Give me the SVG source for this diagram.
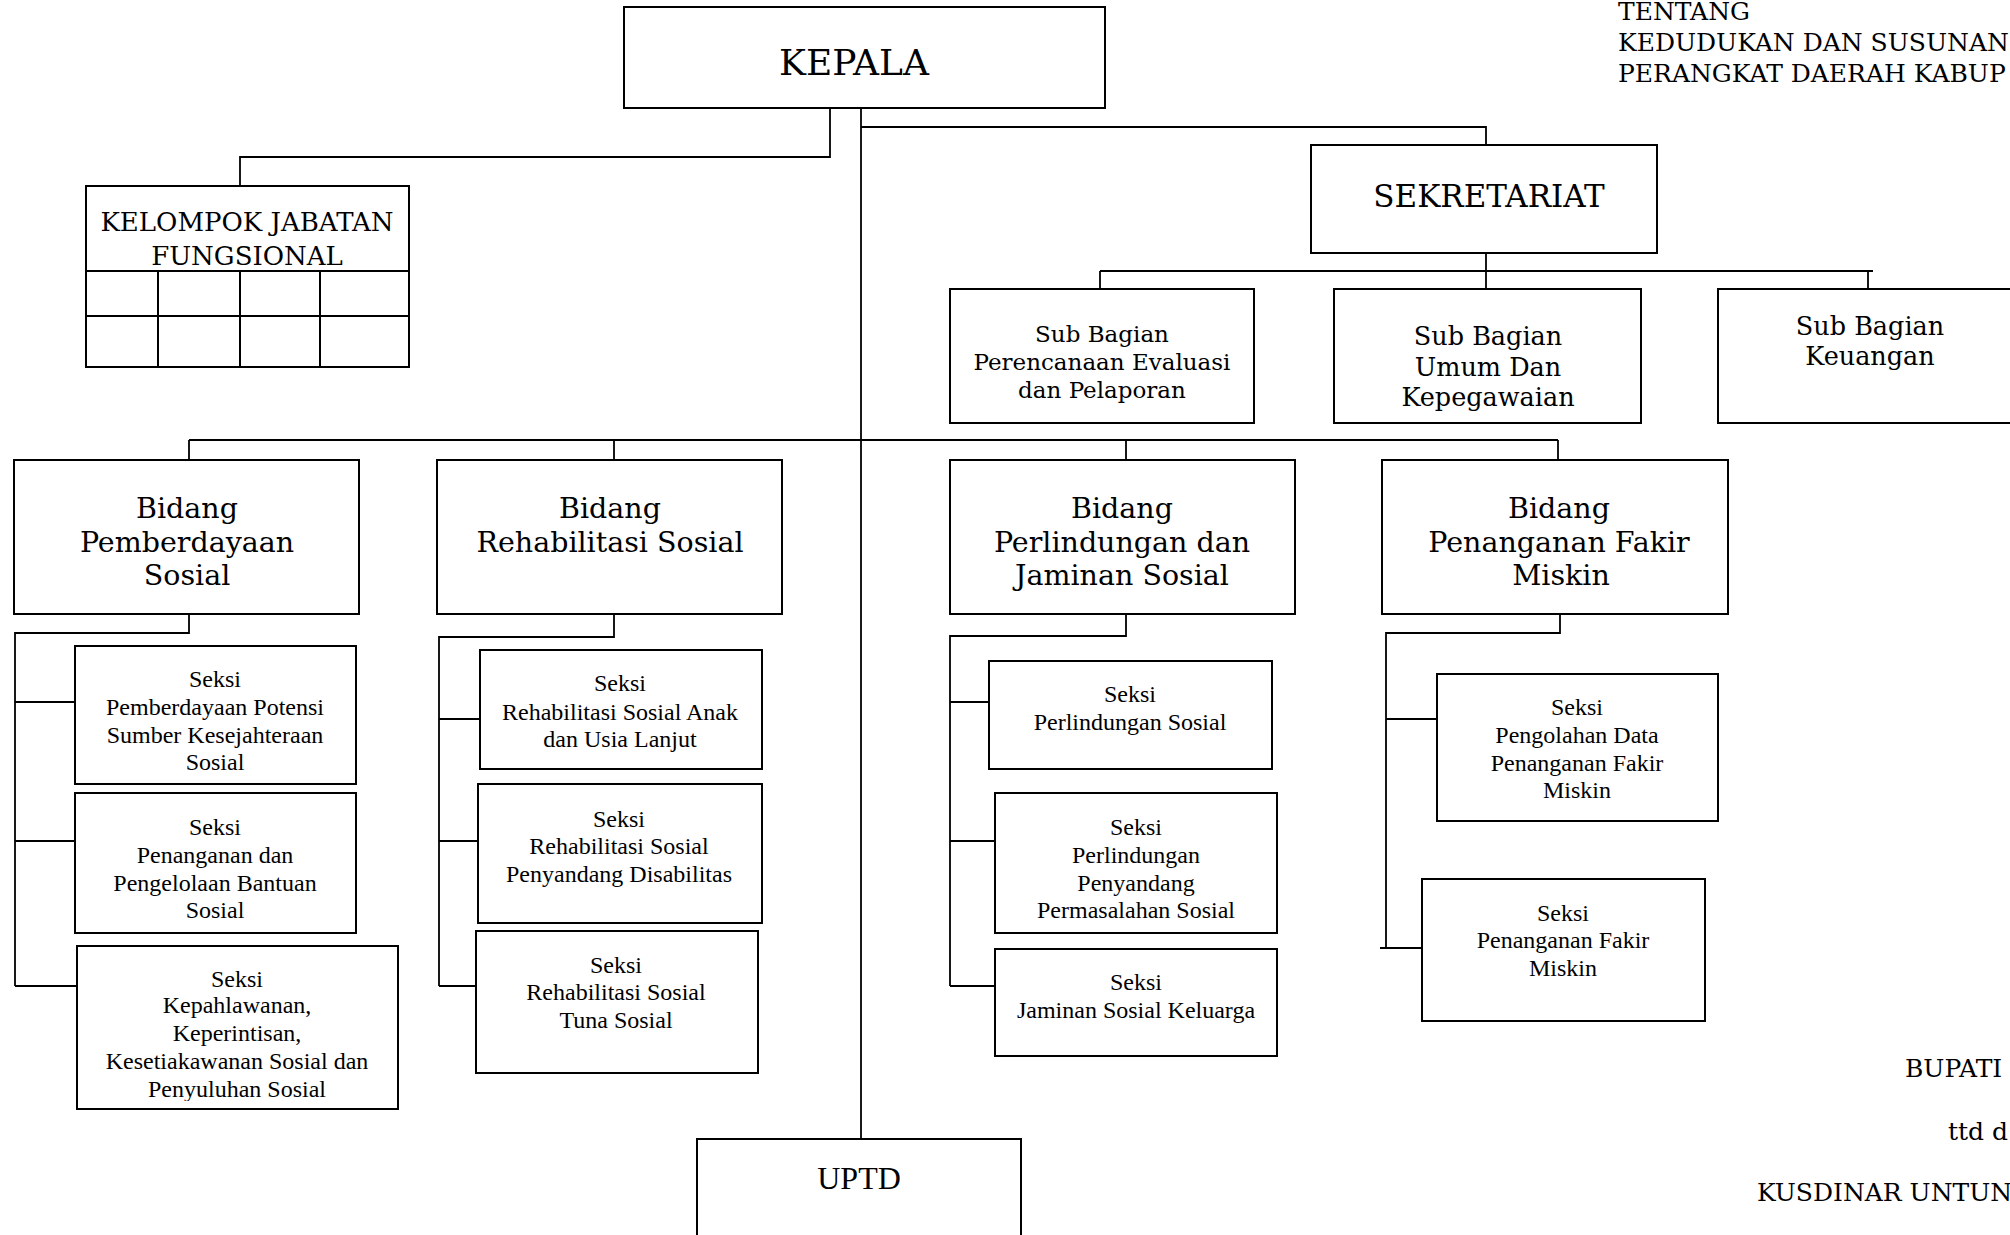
<svg xmlns="http://www.w3.org/2000/svg" width="2010" height="1235" viewBox="0 0 2010 1235">
  <style>
    .box { fill: #fff; stroke: #000; stroke-width: 2; }
    .grid { fill: none; stroke: #000; stroke-width: 2; }
    .conn { fill: none; stroke: #000; stroke-width: 1.8; }
    text { fill: #000; }
    .bk { font-family: "DejaVu Serif", "Liberation Serif", serif; }
    .tm { font-family: "Liberation Serif", "Times New Roman", serif; }
    .c { text-anchor: middle; }
    .head { font-size: 36px; }
    .sek { font-size: 31px; }
    .kjf { font-size: 26px; }
    .sub { font-size: 25.5px; }
    .sub1 { font-size: 23px; }
    .bid { font-size: 28.5px; }
    .seksi { font-size: 24px; }
    .uptd { font-size: 32px; }
    .note { font-size: 25px; }
  </style>
  <defs>
    <clipPath id="clipP3"><rect x="77" y="946" width="321" height="155"/></clipPath>
  </defs>

  <rect width="2010" height="1235" fill="#fff"/>

  <!-- connectors -->
  <g id="connectors" class="conn">
    <path d="M830,108 V157 H240 V186"/>
    <path d="M861,108 V1139"/>
    <path d="M861,127 H1486 V145"/>
    <path d="M1486,253 V289"/>
    <path d="M1100,271 H1873 M1100,271 V289 M1868,271 V289"/>
    <path d="M189,440 H1558 M189,440 V460 M614,440 V460 M1126,440 V460 M1558,440 V460"/>
    <path d="M189,614 V633 H15 V986 M15,702 H75 M15,841 H75 M15,986 H77"/>
    <path d="M614,614 V637 H439 V986 M439,719 H480 M439,841 H478 M439,986 H476"/>
    <path d="M1126,614 V636 H950 V986 M950,702 H989 M950,841 H995 M950,986 H995"/>
    <path d="M1560,614 V633 H1386 V948 M1386,719 H1437 M1380,948 H1422"/>
  </g>

  <!-- head -->
  <g id="kepala">
    <rect class="box" x="624" y="7" width="481" height="101"/>
    <text class="bk head c" x="854" y="75">KEPALA</text>
  </g>

  <g id="kelompok-jabatan-fungsional">
    <rect class="box" x="86" y="186" width="323" height="181"/>
    <path class="grid" d="M86,271 H409 M86,316 H409 M158,271 V367 M240,271 V367 M320,271 V367"/>
    <text class="bk kjf c" x="247" y="231">KELOMPOK JABATAN</text>
    <text class="bk kjf c" x="247" y="265">FUNGSIONAL</text>
  </g>

  <g id="sekretariat">
    <rect class="box" x="1311" y="145" width="346" height="108"/>
    <text class="bk sek c" x="1489" y="207">SEKRETARIAT</text>
  </g>

  <g id="subbag-perencanaan">
    <rect class="box" x="950" y="289" width="304" height="134"/>
    <text class="bk sub1 c" x="1102" y="342">Sub Bagian</text>
    <text class="bk sub1 c" x="1102" y="370">Perencanaan Evaluasi</text>
    <text class="bk sub1 c" x="1102" y="398">dan Pelaporan</text>
  </g>

  <g id="subbag-umum">
    <rect class="box" x="1334" y="289" width="307" height="134"/>
    <text class="bk sub c" x="1488" y="345">Sub Bagian</text>
    <text class="bk sub c" x="1488" y="376">Umum Dan</text>
    <text class="bk sub c" x="1488" y="406">Kepegawaian</text>
  </g>

  <g id="subbag-keuangan">
    <rect class="box" x="1718" y="289" width="310" height="134"/>
    <text class="bk sub c" x="1870" y="335">Sub Bagian</text>
    <text class="bk sub c" x="1870" y="365">Keuangan</text>
  </g>

  <!-- bidang -->
  <g id="bidang-pemberdayaan">
    <rect class="box" x="14" y="460" width="345" height="154"/>
    <text class="bk bid c" x="187" y="518">Bidang</text>
    <text class="bk bid c" x="187" y="552">Pemberdayaan</text>
    <text class="bk bid c" x="187" y="585">Sosial</text>
  </g>

  <g id="bidang-rehabilitasi">
    <rect class="box" x="437" y="460" width="345" height="154"/>
    <text class="bk bid c" x="610" y="518">Bidang</text>
    <text class="bk bid c" x="610" y="552">Rehabilitasi Sosial</text>
  </g>

  <g id="bidang-perlindungan">
    <rect class="box" x="950" y="460" width="345" height="154"/>
    <text class="bk bid c" x="1122" y="518">Bidang</text>
    <text class="bk bid c" x="1122" y="552">Perlindungan dan</text>
    <text class="bk bid c" x="1122" y="585">Jaminan Sosial</text>
  </g>

  <g id="bidang-fakir-miskin">
    <rect class="box" x="1382" y="460" width="346" height="154"/>
    <text class="bk bid c" x="1559" y="518">Bidang</text>
    <text class="bk bid c" x="1559" y="552">Penanganan Fakir</text>
    <text class="bk bid c" x="1561" y="585">Miskin</text>
  </g>

  <!-- seksi: pemberdayaan sosial -->
  <g id="seksi-potensi">
    <rect class="box" x="75" y="646" width="281" height="138"/>
    <text class="tm seksi c" x="215" y="687">Seksi</text>
    <text class="tm seksi c" x="215" y="715">Pemberdayaan Potensi</text>
    <text class="tm seksi c" x="215" y="743">Sumber Kesejahteraan</text>
    <text class="tm seksi c" x="215" y="770">Sosial</text>
  </g>

  <g id="seksi-bantuan">
    <rect class="box" x="75" y="793" width="281" height="140"/>
    <text class="tm seksi c" x="215" y="835">Seksi</text>
    <text class="tm seksi c" x="215" y="863">Penanganan dan</text>
    <text class="tm seksi c" x="215" y="891">Pengelolaan Bantuan</text>
    <text class="tm seksi c" x="215" y="918">Sosial</text>
  </g>

  <g id="seksi-kepahlawanan">
    <rect class="box" x="77" y="946" width="321" height="163"/>
    <g clip-path="url(#clipP3)">
      <text class="tm seksi c" x="237" y="987">Seksi</text>
      <text class="tm seksi c" x="237" y="1013">Kepahlawanan,</text>
      <text class="tm seksi c" x="237" y="1041">Keperintisan,</text>
      <text class="tm seksi c" x="237" y="1069">Kesetiakawanan Sosial dan</text>
      <text class="tm seksi c" x="237" y="1097">Penyuluhan Sosial</text>
    </g>
  </g>

  <!-- seksi: rehabilitasi sosial -->
  <g id="seksi-anak-lansia">
    <rect class="box" x="480" y="650" width="282" height="119"/>
    <text class="tm seksi c" x="620" y="691">Seksi</text>
    <text class="tm seksi c" x="620" y="720">Rehabilitasi Sosial Anak</text>
    <text class="tm seksi c" x="620" y="747">dan Usia Lanjut</text>
  </g>

  <g id="seksi-disabilitas">
    <rect class="box" x="478" y="784" width="284" height="139"/>
    <text class="tm seksi c" x="619" y="827">Seksi</text>
    <text class="tm seksi c" x="619" y="854">Rehabilitasi Sosial</text>
    <text class="tm seksi c" x="619" y="882">Penyandang Disabilitas</text>
  </g>

  <g id="seksi-tuna-sosial">
    <rect class="box" x="476" y="931" width="282" height="142"/>
    <text class="tm seksi c" x="616" y="973">Seksi</text>
    <text class="tm seksi c" x="616" y="1000">Rehabilitasi Sosial</text>
    <text class="tm seksi c" x="616" y="1028">Tuna Sosial</text>
  </g>

  <!-- seksi: perlindungan dan jaminan sosial -->
  <g id="seksi-perlindungan">
    <rect class="box" x="989" y="661" width="283" height="108"/>
    <text class="tm seksi c" x="1130" y="702">Seksi</text>
    <text class="tm seksi c" x="1130" y="730">Perlindungan Sosial</text>
  </g>

  <g id="seksi-pmks">
    <rect class="box" x="995" y="793" width="282" height="140"/>
    <text class="tm seksi c" x="1136" y="835">Seksi</text>
    <text class="tm seksi c" x="1136" y="863">Perlindungan</text>
    <text class="tm seksi c" x="1136" y="891">Penyandang</text>
    <text class="tm seksi c" x="1136" y="918">Permasalahan Sosial</text>
  </g>

  <g id="seksi-jaminan">
    <rect class="box" x="995" y="949" width="282" height="107"/>
    <text class="tm seksi c" x="1136" y="990">Seksi</text>
    <text class="tm seksi c" x="1136" y="1018">Jaminan Sosial Keluarga</text>
  </g>

  <!-- seksi: penanganan fakir miskin -->
  <g id="seksi-pengolahan-data">
    <rect class="box" x="1437" y="674" width="281" height="147"/>
    <text class="tm seksi c" x="1577" y="715">Seksi</text>
    <text class="tm seksi c" x="1577" y="743">Pengolahan Data</text>
    <text class="tm seksi c" x="1577" y="771">Penanganan Fakir</text>
    <text class="tm seksi c" x="1577" y="798">Miskin</text>
  </g>

  <g id="seksi-penanganan">
    <rect class="box" x="1422" y="879" width="283" height="142"/>
    <text class="tm seksi c" x="1563" y="921">Seksi</text>
    <text class="tm seksi c" x="1563" y="948">Penanganan Fakir</text>
    <text class="tm seksi c" x="1563" y="976">Miskin</text>
  </g>

  <g id="uptd">
    <rect class="box" x="697" y="1139" width="324" height="110"/>
    <text class="tm uptd c" x="859" y="1189">UPTD</text>
  </g>

  <!-- page header and signature block -->
  <g id="header-text" class="bk note">
    <text x="1618" y="20">TENTANG</text>
    <text x="1618" y="51">KEDUDUKAN DAN SUSUNAN</text>
    <text x="1618" y="82">PERANGKAT DAERAH KABUP</text>
  </g>

  <g id="signature" class="bk note">
    <text x="1905" y="1077">BUPATI</text>
    <text x="1948" y="1140">ttd d</text>
    <text x="1757" y="1201">KUSDINAR UNTUNG</text>
  </g>
</svg>
